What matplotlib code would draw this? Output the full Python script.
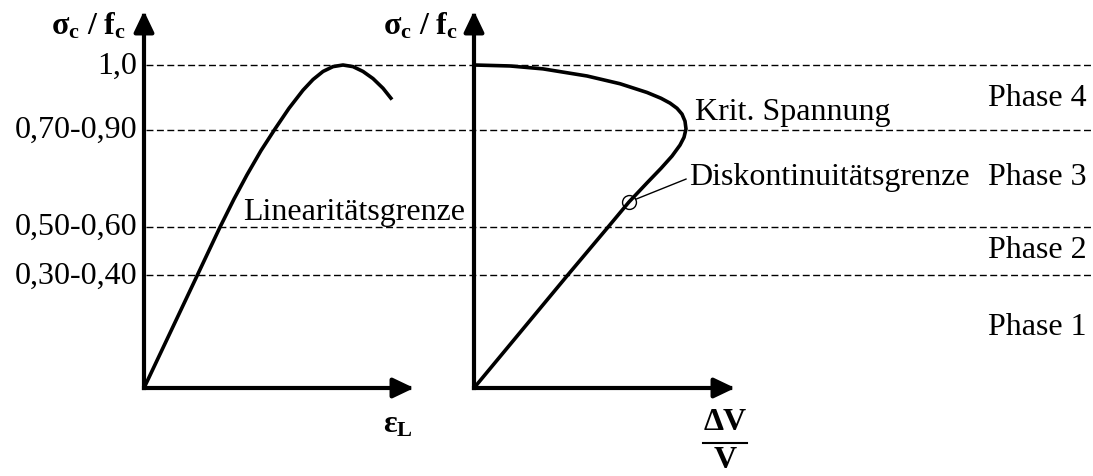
import numpy as np
import matplotlib
matplotlib.use("Agg")
import matplotlib.pyplot as plt
import matplotlib.transforms as mtransforms
from matplotlib.lines import Line2D

plt.rcParams['font.family'] = 'Liberation Serif'
plt.rcParams['mathtext.fontset'] = 'custom'
plt.rcParams['mathtext.rm'] = 'Liberation Serif'
plt.rcParams['mathtext.bf'] = 'Liberation Serif:bold'
plt.rcParams['mathtext.it'] = 'Liberation Serif:italic'

# stress levels (sigma_c / f_c) and their labels
levels = [1.0, 0.8, 0.5, 0.35]
level_labels = ['1,0', '0,70-0,90', '0,50-0,60', '0,30-0,40']

# phase labels and their height
phases = ['Phase 4', 'Phase 3', 'Phase 2', 'Phase 1']
phase_y = [0.90, 0.655, 0.43, 0.19]

# longitudinal strain curve
eps_l = [0, 0.53, 0.76, 0.90, 1.03, 1.17, 1.31, 1.45, 1.59, 1.69, 1.79, 1.89, 1.99,
         2.09, 2.19, 2.29, 2.39, 2.48]
sig_l = [0, 0.347, 0.498, 0.585, 0.660, 0.735, 0.802, 0.866, 0.922, 0.955, 0.980, 0.995, 1.0,
         0.995, 0.980, 0.958, 0.928, 0.893]

# volumetric strain curve
dv = [0, 0.93, 1.34, 1.55, 1.73, 1.87, 1.98, 2.06, 2.10, 2.12, 2.11, 2.08, 2.03,
      1.96, 1.87, 1.73, 1.46, 1.13, 0.69, 0.36, 0]
sig_v = [0, 0.347, 0.498, 0.576, 0.635, 0.680, 0.718, 0.752, 0.776, 0.802, 0.826, 0.848, 0.866,
         0.882, 0.897, 0.915, 0.942, 0.966, 0.988, 0.997, 1.0]

# discontinuity point
disc = (1.55, 0.576)

W, H = 1093, 477
fig = plt.figure(figsize=(W / 100, H / 100), dpi=100)


def fx(x):
    return x / W


def fy(y):
    return 1 - y / H


# origin at (144, 389) px / (474, 389) px, 100 px per unit on x, 323 px per unit on y
ax1 = fig.add_axes([fx(144), fy(389), (414 - 144) / W, (389 - 12) / H])
ax2 = fig.add_axes([fx(474), fy(389), (735 - 474) / W, (389 - 12) / H])
ax1.set_xlim(0, 2.70)
ax2.set_xlim(0, 2.61)
for ax in (ax1, ax2):
    ax.set_ylim(0, 377 / 323)
    ax.set_axis_off()
    ax.patch.set_alpha(0)
    arrow = dict(arrowstyle='-|>,head_length=1.15,head_width=0.55', lw=3, color='k',
                 shrinkA=0, shrinkB=0, mutation_scale=11, capstyle='projecting')
    ax.annotate('', xy=(1, 0), xytext=(0, 0), xycoords='axes fraction',
                textcoords='axes fraction', arrowprops=arrow)
    ax.annotate('', xy=(0, 1), xytext=(0, 0), xycoords='axes fraction',
                textcoords='axes fraction', arrowprops=arrow)

# dashed stress levels across both diagrams
trans = mtransforms.blended_transform_factory(fig.transFigure, ax1.transData)
for lev, lab in zip(levels, level_labels):
    ax1.plot([fx(146), 1.0], [lev, lev], transform=trans, color='k', lw=1,
             dashes=(5, 2.5), clip_on=False, zorder=1)
    ax1.text(fx(137), lev, lab, transform=trans, ha='right', va='center', fontsize=23)

for ph, y in zip(phases, phase_y):
    ax1.text(fx(1087), y, ph, transform=trans, ha='right', va='center', fontsize=23)

ax1.plot(eps_l, sig_l, color='k', lw=2.6, solid_joinstyle='round', solid_capstyle='butt', zorder=3)
ax2.plot(dv, sig_v, color='k', lw=2.6, solid_joinstyle='round', solid_capstyle='butt', zorder=3)

ax1.text(0.99, 0.545, 'Linearitätsgrenze', ha='left', va='center', fontsize=23)
ax2.text(2.21, 0.855, 'Krit. Spannung', ha='left', va='center', fontsize=23)

ax2.plot(*disc, 'o', ms=10, mfc='none', mec='k', mew=1, zorder=4)
ax2.annotate('Diskontinuitätsgrenze', xy=disc, xytext=(2.15, 0.655), fontsize=23,
             ha='left', va='center',
             arrowprops=dict(arrowstyle='-', lw=1, color='k', shrinkA=0, shrinkB=5,
                             relpos=(0, 0.45)))

# axis labels
fig.text(fx(126), fy(26), r'$\mathbf{σ_c\ /\ f_c}$', ha='right', va='center', fontsize=23)
fig.text(fx(458), fy(26), r'$\mathbf{σ_c\ /\ f_c}$', ha='right', va='center', fontsize=23)
fig.text(fx(398), fy(425), r'$\mathbf{ε_L}$', ha='center', va='center', fontsize=23)

# dV / V written as a stacked fraction
fig.text(fx(725), fy(423), 'ΔV', ha='center', va='center', fontsize=23, fontweight='bold')
fig.add_artist(Line2D([fx(703), fx(747)], [fy(444), fy(444)], color='k', lw=1.5))
fig.text(fx(725), fy(461), 'V', ha='center', va='center', fontsize=23, fontweight='bold')

fig.savefig('out.png', dpi=100)
